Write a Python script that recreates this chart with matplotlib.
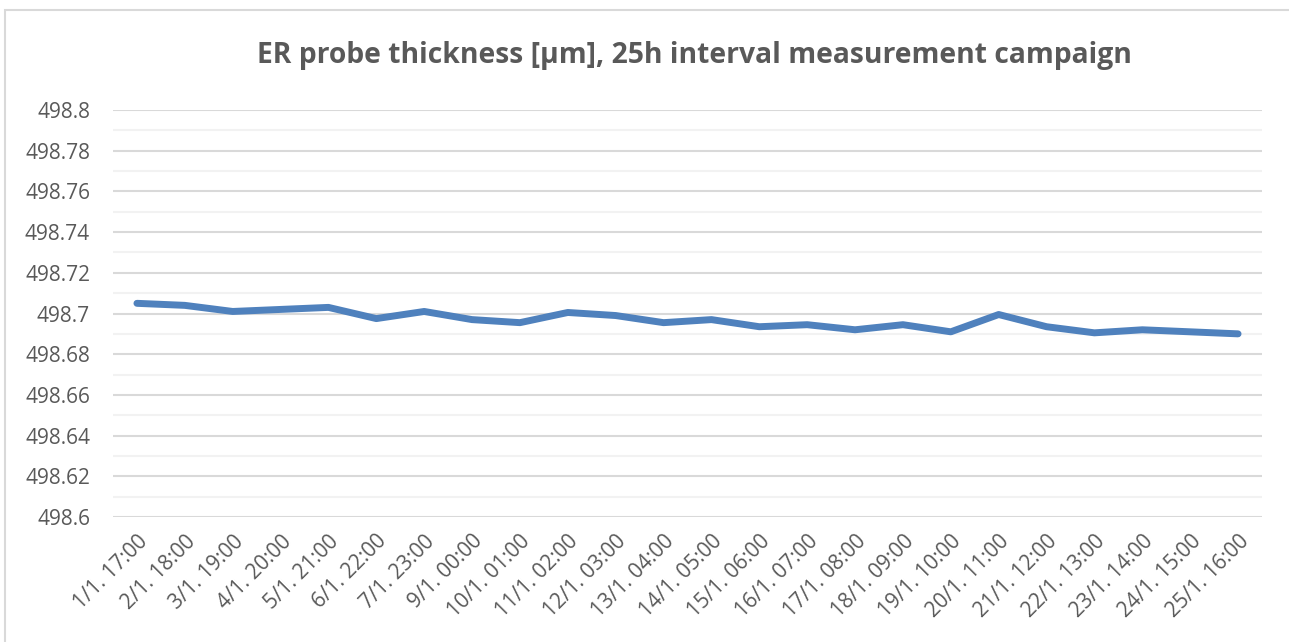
import numpy as np
import matplotlib.pyplot as plt
from matplotlib.patches import Rectangle

# ER probe thickness, 25h interval campaign
labels = ["1/1. 17:00", "2/1. 18:00", "3/1. 19:00", "4/1. 20:00", "5/1. 21:00",
          "6/1. 22:00", "7/1. 23:00", "9/1. 00:00", "10/1. 01:00", "11/1. 02:00",
          "12/1. 03:00", "13/1. 04:00", "14/1. 05:00", "15/1. 06:00", "16/1. 07:00",
          "17/1. 08:00", "18/1. 09:00", "19/1. 10:00", "20/1. 11:00", "21/1. 12:00",
          "22/1. 13:00", "23/1. 14:00", "24/1. 15:00", "25/1. 16:00"]
thickness = [498.705, 498.704, 498.701, 498.702, 498.703, 498.6975, 498.701, 498.697,
             498.6955, 498.7005, 498.699, 498.6955, 498.697, 498.6935, 498.6945, 498.692,
             498.6945, 498.691, 498.6995, 498.6935, 498.6905, 498.692, 498.691, 498.690]

plt.rcParams['font.family'] = ['Open Sans', 'DejaVu Sans']
txt = '#595959'

fig = plt.figure(figsize=(12.89, 6.42), dpi=100)
ax = fig.add_axes([113/1289, 1-517/642, (1262-113)/1289, (517-110)/642])

x = np.arange(len(labels))
ax.plot(x, thickness, color='#4F81BD', lw=5, solid_capstyle='round', solid_joinstyle='round', zorder=3)

ax.set_xlim(-0.5, len(labels)-0.5)
ax.set_ylim(498.6, 498.8)
yt = np.round(np.arange(498.6, 498.8001, 0.02), 2)
ax.set_yticks(yt)
ax.set_yticklabels([f"{v:g}" for v in yt])
ax.set_yticks(np.round(np.arange(498.61, 498.8, 0.02), 2), minor=True)
ax.grid(axis='y', which='major', color='#D9D9D9', lw=1.5)
ax.grid(axis='y', which='minor', color='#F2F2F2', lw=1.5)
ax.set_axisbelow(True)

ax.set_xticks(x)
ax.set_xticklabels(labels, rotation=45, ha='right', rotation_mode='anchor')
ax.tick_params(axis='both', which='both', length=0, labelcolor=txt)
ax.tick_params(axis='y', labelsize=15, pad=16.5)
ax.tick_params(axis='x', labelsize=15, pad=10)
for s in ax.spines.values():
    s.set_visible(False)

fig.text(694/1289, 1-55/642, "ER probe thickness [μm], 25h interval measurement campaign",
         ha='center', va='center', fontsize=20.3, fontweight='bold', color=txt)

fig.patches.append(Rectangle((5/1289, -0.1), 1.2, 1-10/642+0.1, transform=fig.transFigure,
                             fill=False, edgecolor='#D9D9D9', lw=1.5))

fig.savefig('out.png', dpi=100)
